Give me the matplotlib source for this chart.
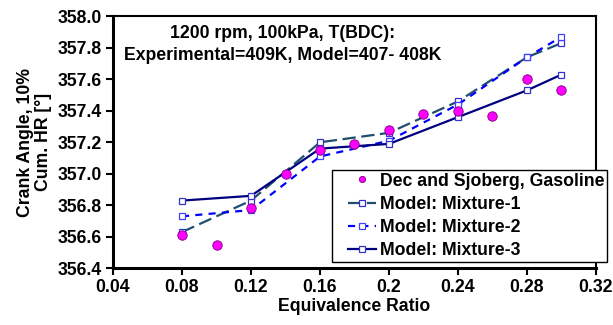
import matplotlib
matplotlib.use("Agg")
import matplotlib.pyplot as plt
from matplotlib.legend_handler import HandlerLine2D

plt.rcParams['font.family'] = ['Liberation Sans', 'DejaVu Sans']
plt.rcParams['font.weight'] = 'bold'

# Data
phi_exp = [0.08, 0.10, 0.12, 0.14, 0.16, 0.18, 0.20, 0.22, 0.24, 0.26, 0.28, 0.30]
ca_exp = [356.61, 356.55, 356.78, 357.00, 357.15, 357.19, 357.28, 357.38, 357.40, 357.37, 357.60, 357.53]

phi_model = [0.08, 0.12, 0.16, 0.20, 0.24, 0.28, 0.30]
ca_mix1 = [356.63, 356.83, 357.20, 357.26, 357.46, 357.74, 357.83]
ca_mix2 = [356.73, 356.77, 357.11, 357.21, 357.44, 357.74, 357.87]
ca_mix3 = [356.83, 356.86, 357.16, 357.19, 357.36, 357.53, 357.63]

xticks = [0.04, 0.08, 0.12, 0.16, 0.2, 0.24, 0.28, 0.32]
xticklabels = ['0.04', '0.08', '0.12', '0.16', '0.2', '0.24', '0.28', '0.32']
yticks = [356.4, 356.6, 356.8, 357.0, 357.2, 357.4, 357.6, 357.8, 358.0]

FS = 12.7

fig = plt.figure(figsize=(6.13, 3.25), dpi=100)
ax = fig.add_axes([113/613, 1-268.3/325, (596-113)/613, (268.3-16.3)/325])

h_exp, = ax.plot(phi_exp, ca_exp, linestyle='none', marker='o', markersize=6.8,
                 markerfacecolor='#FF00FF', markeredgecolor='#800080', markeredgewidth=0.6,
                 label='Dec and Sjoberg, Gasoline', zorder=5)
h1, = ax.plot(phi_model, ca_mix1, color='#1F4E6E', linestyle=(0, (6, 2.5)), linewidth=1.6,
              marker='s', markersize=3.8, markerfacecolor='white', markeredgecolor='#3333CC',
              markeredgewidth=0.9, label='Model: Mixture-1', zorder=3)
h2, = ax.plot(phi_model, ca_mix2, color='#0000FF', linestyle=(0, (3.2, 2.8)), linewidth=1.6,
              marker='s', markersize=3.8, markerfacecolor='white', markeredgecolor='#4040FF',
              markeredgewidth=0.9, label='Model: Mixture-2', zorder=3)
h3, = ax.plot(phi_model, ca_mix3, color='#000080', linestyle='-', linewidth=1.6,
              marker='s', markersize=3.8, markerfacecolor='white', markeredgecolor='#3333CC',
              markeredgewidth=0.9, label='Model: Mixture-3', zorder=4)

ax.set_xlim(0.04, 0.32)
ax.set_ylim(356.4, 358.0)
ax.set_xticks(xticks)
ax.set_xticklabels(xticklabels)
ax.set_yticks(yticks)
ax.set_yticklabels([f'{v:.1f}' for v in yticks])
ax.tick_params(axis='both', direction='out', length=5, width=1.5, labelsize=FS, pad=3)
for lbl in ax.get_xticklabels() + ax.get_yticklabels():
    lbl.set_fontweight('bold')
for side in ['left', 'bottom']:
    ax.spines[side].set_linewidth(2.2)
for side in ['top', 'right']:
    ax.spines[side].set_linewidth(1.5)

ax.set_xlabel('Equivalence Ratio', fontsize=FS, fontweight='bold', labelpad=1)
ax.set_ylabel('Crank Angle, 10%\nCum. HR [°]', fontsize=FS, fontweight='bold', labelpad=4,
              linespacing=1.1)

fig.text(283/613, 1-33/325, '1200 rpm, 100kPa, T(BDC):', ha='center', va='center',
         fontsize=FS, fontweight='bold')
fig.text(283/613, 1-56/325, 'Experimental=409K, Model=407- 408K', ha='center', va='center',
         fontsize=FS, fontweight='bold')


def small_marker(legend_handle, orig):
    legend_handle.update_from(orig)
    legend_handle.set_markersize(4.5)


hmap = {
    h_exp: HandlerLine2D(xpad=0.75, update_func=small_marker),
    h1: HandlerLine2D(xpad=0.75),
    h2: HandlerLine2D(xpad=0.75),
    h3: HandlerLine2D(xpad=0.75),
}

leg = fig.legend(handles=[h_exp, h1, h2, h3], loc='upper left',
                 bbox_to_anchor=(332/613, 1-170/325), handler_map=hmap,
                 fontsize=FS, frameon=True, fancybox=False, edgecolor='black',
                 borderpad=0.15, labelspacing=0.35, handlelength=2.35, handletextpad=0.2,
                 borderaxespad=0, framealpha=1)
leg.get_frame().set_linewidth(1.0)
for t in leg.get_texts():
    t.set_fontweight('bold')

fig.savefig('out.png', dpi=100)
